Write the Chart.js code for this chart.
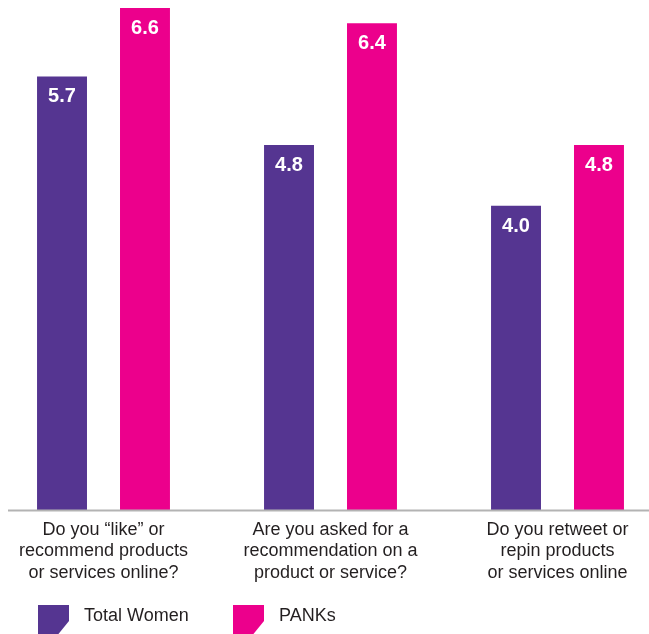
<!DOCTYPE html>
<html>
<head>
<meta charset="utf-8">
<script src="https://cdn.jsdelivr.net/npm/chart.js@4"></script>
<style>
  html, body { margin: 0; padding: 0; background: #fff; }
  #wrap { width: 649px; height: 634px; position: relative; }
</style>
</head>
<body>
<div id="wrap"><canvas id="myChart"></canvas></div>
<script>
// data
const categories = [
  ["Do you \u201clike\u201d or", "recommend products", "or services online?"],
  ["Are you asked for a", "recommendation on a", "product or service?"],
  ["Do you retweet or", "repin products", "or services online"]
];
const seriesNames = ["Total Women", "PANKs"];
const totalWomen = [5.7, 4.8, 4.0];
const panks = [6.6, 6.4, 4.8];
const colors = ["#553591", "#ec008c"];

const FONT = "'Liberation Sans', Arial, sans-serif";

// value labels inside the bar tops
const valueLabels = {
  id: 'valueLabels',
  afterDatasetsDraw(chart) {
    const ctx = chart.ctx;
    ctx.save();
    ctx.fillStyle = '#fff';
    ctx.font = 'bold 20px ' + FONT;
    ctx.textAlign = 'center';
    ctx.textBaseline = 'middle';
    chart.data.datasets.forEach((ds, i) => {
      chart.getDatasetMeta(i).data.forEach((bar, j) => {
        ctx.fillText(ds.data[j].toFixed(1), bar.x, bar.y + 20.5);
      });
    });
    ctx.restore();
  }
};

// grey base line across the whole width
const baseLine = {
  id: 'baseLine',
  afterDatasetsDraw(chart) {
    const ctx = chart.ctx;
    const y0 = chart.scales.y.getPixelForValue(0);
    ctx.save();
    ctx.fillStyle = '#b3b3b3';
    ctx.fillRect(8, y0 - 0.5, chart.width - 8, 2);
    ctx.restore();
  }
};

// legend with cut-corner swatches
const cornerLegend = {
  id: 'cornerLegend',
  afterDraw(chart) {
    const ctx = chart.ctx;
    const xs = [38, 233];
    const top = 605;
    ctx.save();
    chart.data.datasets.forEach((ds, i) => {
      const x = xs[i];
      ctx.fillStyle = ds.backgroundColor;
      ctx.beginPath();
      ctx.moveTo(x, top);
      ctx.lineTo(x + 31, top);
      ctx.lineTo(x + 31, top + 16);
      ctx.lineTo(x + 18, top + 32);
      ctx.lineTo(x, top + 32);
      ctx.closePath();
      ctx.fill();
      ctx.fillStyle = '#231f20';
      ctx.font = '18px ' + FONT;
      ctx.textAlign = 'left';
      ctx.textBaseline = 'middle';
      ctx.fillText(ds.label, x + 46, top + 11);
    });
    ctx.restore();
  }
};

const ctx = document.getElementById('myChart').getContext('2d');
const myChart = new Chart(ctx, {
  type: 'bar',
  data: {
    labels: categories,
    datasets: [
      { label: seriesNames[0], data: totalWomen, backgroundColor: colors[0], clip: false },
      { label: seriesNames[1], data: panks, backgroundColor: colors[1], clip: false }
    ]
  },
  options: {
    responsive: true,
    maintainAspectRatio: false,
    animation: false,
    categoryPercentage: 0.731,
    barPercentage: 0.602,
    layout: { padding: { left: 103.5, right: 91.5, top: 8, bottom: 0 } },
    plugins: {
      legend: { display: false },
      tooltip: { enabled: false }
    },
    scales: {
      x: {
        offset: false,
        grid: { display: false, drawTicks: false },
        border: { display: false },
        ticks: {
          color: '#231f20',
          font: { family: FONT, size: 18, lineHeight: 1.2 },
          padding: 9,
          maxRotation: 0,
          autoSkip: false
        },
        afterFit(scale) { scale.height = 124; }
      },
      y: {
        display: false,
        min: 0,
        max: 6.6
      }
    }
  },
  plugins: [baseLine, valueLabels, cornerLegend]
});
</script>
</body>
</html>
